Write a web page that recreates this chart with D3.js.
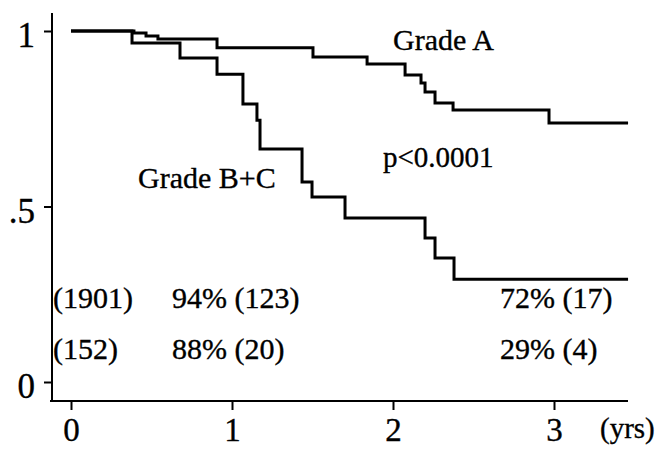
<!DOCTYPE html>
<html>
<head>
<meta charset="UTF-8">
<script src="https://cdn.jsdelivr.net/npm/d3@7"></script>
<style>
body { margin:0; background:#fff; }
text { font-family:"Liberation Serif","Times New Roman",serif; fill:#000; stroke:#000; stroke-width:0.35; }
.curve { fill:none; stroke:#000; stroke-width:3; }
.axis line, .axis path { stroke:#000; stroke-width:2; }
</style>
</head>
<body>
<div id="chart"></div>
<script>
// x ticks in years, y ticks as survival proportion
var years = [0, 1, 2, 3];
var survTicks = [0, 0.5, 1];
var survLabels = ["0", ".5", "1"];

// Kaplan-Meier steps
var gradeATime = [0, 0.391, 0.466, 0.540, 0.907, 1.503, 1.839, 2.075, 2.174, 2.199, 2.261, 2.373, 2.969, 3.46];
var gradeASurv = [1, 0.994, 0.986, 0.977, 0.952, 0.926, 0.906, 0.875, 0.852, 0.826, 0.795, 0.775, 0.738, 0.738];
var gradeBCTime = [0, 0.379, 0.677, 0.907, 1.068, 1.155, 1.174, 1.435, 1.497, 1.702, 2.199, 2.261, 2.379, 3.46];
var gradeBCSurv = [1, 0.966, 0.923, 0.877, 0.792, 0.746, 0.664, 0.570, 0.527, 0.467, 0.410, 0.353, 0.293, 0.293];

// numbers at risk / survival rows
var rowA = ["(1901)", "94% (123)", "72% (17)"];
var rowBC = ["(152)", "88% (20)", "29% (4)"];

var width = 656, height = 451;
var svg = d3.select("#chart").append("svg").attr("width", width).attr("height", height);

var x = d3.scaleLinear().domain([0, 1]).range([71, 232]);
var y = d3.scaleLinear().domain([0, 1]).range([382, 31]);

// frame lines
svg.append("line").attr("x1", 52).attr("x2", 52).attr("y1", 13).attr("y2", 402)
  .attr("stroke", "#000").attr("stroke-width", 2);
svg.append("line").attr("x1", 50).attr("x2", 628).attr("y1", 401).attr("y2", 401)
  .attr("stroke", "#000").attr("stroke-width", 2);

var yAxis = svg.append("g").attr("class", "axis").attr("transform", "translate(52,0)")
  .call(d3.axisLeft(y).tickValues(survTicks).tickSize(8).tickPadding(9)
    .tickFormat(function(d, i){ return survLabels[i]; }));
yAxis.select(".domain").remove();
yAxis.selectAll("text").style("font-size", "35px").attr("dy", "0.45em");

var xAxis = svg.append("g").attr("class", "axis").attr("transform", "translate(0,401)")
  .call(d3.axisBottom(x).tickValues(years).tickSize(9).tickPadding(8)
    .tickFormat(d3.format("d")));
xAxis.select(".domain").remove();
xAxis.selectAll("text").style("font-size", "33px").attr("dy", "0.71em");

svg.append("text").attr("x", 600).attr("y", 438).style("font-size", "29px").text("(yrs)");

var line = d3.line()
  .x(function(d){ return x(d[0]); })
  .y(function(d){ return y(d[1]); })
  .curve(d3.curveStepAfter);

svg.append("path").attr("class", "curve")
  .attr("d", line(d3.zip(gradeATime, gradeASurv)));
svg.append("path").attr("class", "curve")
  .attr("d", line(d3.zip(gradeBCTime, gradeBCSurv)));

svg.append("text").attr("x", 393).attr("y", 50).style("font-size", "30px").text("Grade A");
svg.append("text").attr("x", 138).attr("y", 188).style("font-size", "30px").text("Grade B+C");
svg.append("text").attr("x", 383).attr("y", 167).style("font-size", "29px").text("p<0.0001");

var colX = [53, 172, 500];
[rowA, rowBC].forEach(function(row, r){
  svg.selectAll(".row" + r).data(row).enter().append("text")
    .attr("class", "row" + r)
    .attr("x", function(d, i){ return colX[i]; })
    .attr("y", r === 0 ? 308 : 359)
    .style("font-size", "30px")
    .text(function(d){ return d; });
});
</script>
</body>
</html>
